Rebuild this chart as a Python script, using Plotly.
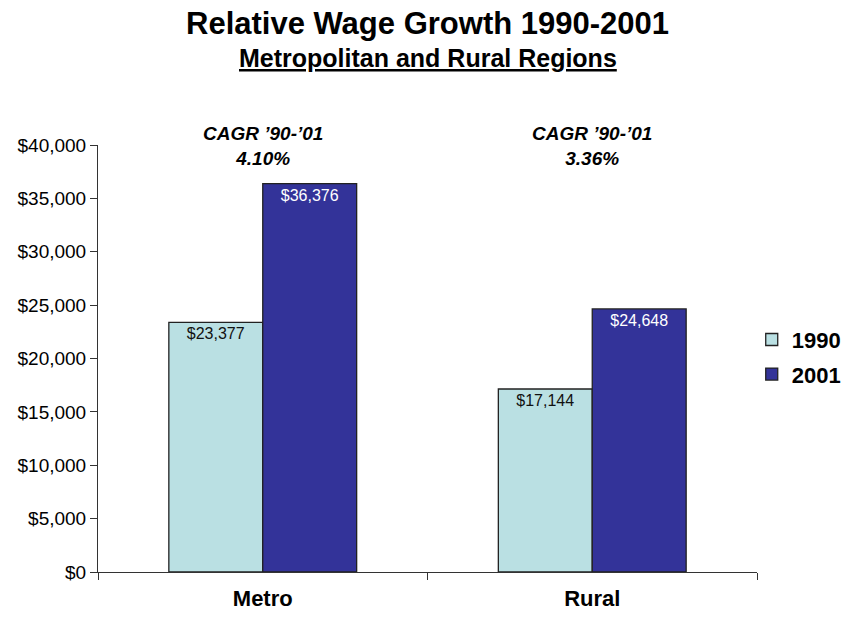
import plotly.graph_objects as go

regions = ["Metro", "Rural"]
wages_1990 = [23377, 17144]
wages_2001 = [36376, 24648]
years = 2001 - 1990
y_ticks = list(range(0, 40001, 5000))

FONT = "Liberation Sans, Arial, sans-serif"
C1990 = "#BAE0E3"
C2001 = "#333399"

fig = go.Figure()
fig.add_trace(go.Bar(
    name="<b>1990</b>", x=regions, y=wages_1990, legendgroup="a",
    marker=dict(color=C1990, line=dict(color="#222222", width=1.3)),
    texttemplate="$%{y:,.0f}", textposition="inside", insidetextanchor="end",
    textfont=dict(family=FONT, size=16, color="#111111"),
))
fig.add_trace(go.Bar(
    name="<b>2001</b>", x=regions, y=wages_2001, legendgroup="b",
    marker=dict(color=C2001, line=dict(color="#222222", width=1.3)),
    texttemplate="$%{y:,.0f}", textposition="inside", insidetextanchor="end",
    textfont=dict(family=FONT, size=16, color="white"),
))

# compound annual growth rate labels above each group
for r, a, b in zip(regions, wages_1990, wages_2001):
    cagr = (b / a) ** (1 / years) - 1
    fig.add_annotation(
        x=r, y=39900, xref="x", yref="y",
        text=f"<b><i>CAGR \u201990-\u201901<br>{cagr * 100:.2f}%</i></b>",
        showarrow=False, yanchor="middle",
        font=dict(family=FONT, size=19, color="black"),
    )

# titles (plot area is 427 px tall, top edge at 145 px)
fig.add_annotation(
    x=0.5, y=1 + (145 - 23) / 427, xref="paper", yref="paper", yanchor="middle",
    text="<b>Relative Wage Growth 1990-2001</b>",
    showarrow=False, font=dict(family=FONT, size=31, color="black"),
)
fig.add_annotation(
    x=0.5, y=1 + (145 - 58) / 427, xref="paper", yref="paper", yanchor="middle",
    text="<b><u>Metropolitan and Rural Regions</u></b>",
    showarrow=False, font=dict(family=FONT, size=25, color="black"),
)

fig.update_layout(
    width=847, height=618,
    margin=dict(l=98, r=90, t=145, b=46, autoexpand=False),
    paper_bgcolor="white", plot_bgcolor="white",
    barmode="group", bargap=0.43, bargroupgap=0,
    showlegend=True,
    legend=dict(
        x=0.992, y=0.503, xanchor="left", yanchor="middle",
        font=dict(family=FONT, size=22, color="black"),
        itemwidth=30, tracegroupgap=3, traceorder="grouped",
    ),
)

fig.update_yaxes(
    range=[0, 40000], tickvals=y_ticks,
    ticktext=[f"${v:,}" for v in y_ticks],
    showgrid=False, zeroline=False,
    showline=True, linecolor="#333333", linewidth=1,
    ticks="outside", ticklen=7, tickcolor="#333333",
    tickfont=dict(family=FONT, size=19, color="black"),
)
fig.update_xaxes(
    tickvals=regions, ticktext=[f"<b>{r}</b>" for r in regions],
    showgrid=False, showline=True, linecolor="#333333", linewidth=1,
    ticks="outside", tickson="boundaries", ticklen=7, tickcolor="#333333",
    tickfont=dict(family=FONT, size=22, color="black"),
    ticklabelstandoff=7,
)

fig.write_html("out.html")
